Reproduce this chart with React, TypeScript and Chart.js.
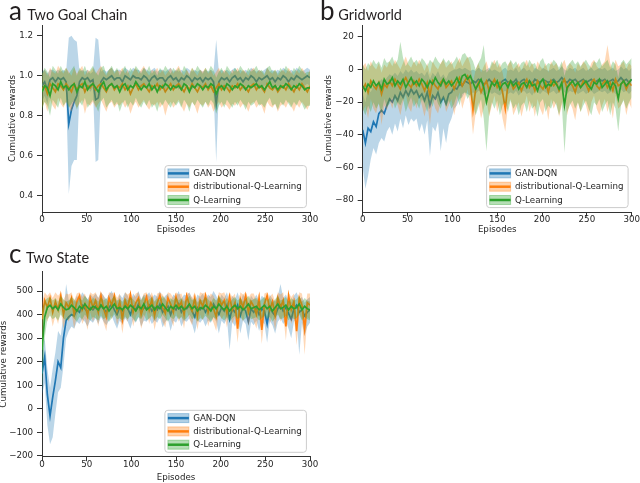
import React, { useEffect, useRef } from 'react';
import { Chart, registerables } from 'chart.js';
Chart.register(...registerables);

// ---------- data ----------
const EPISODES = [
  0, 3, 6, 9, 12, 15, 18, 21, 24, 27,
  30, 33, 36, 39, 42, 45, 48, 51, 54, 57,
  60, 63, 66, 69, 72, 75, 78, 81, 84, 87,
  90, 93, 96, 99, 102, 105, 108, 111, 114, 117,
  120, 123, 126, 129, 132, 135, 138, 141, 144, 147,
  150, 153, 156, 159, 162, 165, 168, 171, 174, 177,
  180, 183, 186, 189, 192, 195, 198, 201, 204, 207,
  210, 213, 216, 219, 222, 225, 228, 231, 234, 237,
  240, 243, 246, 249, 252, 255, 258, 261, 264, 267,
  270, 273, 276, 279, 282, 285, 288, 291, 294, 297,
  300,
];
const X_TICKS = [0, 50, 100, 150, 200, 250, 300];
const A_Y_TICKS = [0.4, 0.6, 0.8, 1.0, 1.2];
const B_Y_TICKS = [-80, -60, -40, -20, 0, 20];
const C_Y_TICKS = [-200, -100, 0, 100, 200, 300, 400, 500];
const SERIES_NAMES = ['GAN-DQN', 'distributional-Q-Learning', 'Q-Learning'];

// Panel a: Two Goal Chain
const A_GAN = [
  0.95, 0.97, 0.93, 0.98, 0.99, 0.97, 0.99, 0.98, 0.99, 0.97,
  0.76, 0.83, 0.87, 0.90, 0.97, 0.99, 0.98, 0.99, 0.97, 0.98,
  0.88, 0.89, 0.97, 0.99, 0.98, 0.99, 1.00, 0.98, 0.99, 0.99,
  0.97, 1.00, 0.99, 0.98, 1.00, 0.99, 0.99, 0.98, 1.00, 0.99,
  0.97, 0.99, 1.00, 0.98, 0.99, 0.99, 0.97, 0.99, 1.00, 0.98,
  0.99, 0.97, 0.99, 0.98, 1.00, 0.99, 0.97, 0.99, 0.98, 0.99,
  0.97, 0.99, 0.98, 0.99, 0.97, 0.86, 0.97, 0.99, 0.98, 0.99,
  0.97, 0.99, 1.00, 0.98, 0.99, 0.97, 0.99, 0.98, 1.00, 0.99,
  0.97, 0.99, 0.98, 0.99, 1.00, 0.98, 0.99, 0.97, 0.99, 0.98,
  1.00, 0.99, 0.97, 0.99, 0.98, 1.00, 0.99, 0.98, 0.99, 1.00,
  0.99,
];
const A_GAN_LO = [
  0.87, 0.90, 0.86, 0.93, 0.95, 0.92, 0.95, 0.94, 0.95, 0.92,
  0.41, 0.55, 0.58, 0.58, 0.93, 0.95, 0.94, 0.95, 0.92, 0.94,
  0.57, 0.58, 0.93, 0.95, 0.94, 0.95, 0.96, 0.94, 0.95, 0.95,
  0.93, 0.96, 0.95, 0.94, 0.96, 0.95, 0.95, 0.94, 0.96, 0.95,
  0.93, 0.95, 0.96, 0.94, 0.95, 0.95, 0.93, 0.95, 0.96, 0.94,
  0.95, 0.93, 0.95, 0.94, 0.96, 0.95, 0.93, 0.95, 0.94, 0.95,
  0.93, 0.95, 0.94, 0.95, 0.93, 0.57, 0.93, 0.95, 0.94, 0.95,
  0.93, 0.95, 0.96, 0.94, 0.95, 0.93, 0.95, 0.94, 0.96, 0.95,
  0.93, 0.95, 0.94, 0.95, 0.96, 0.94, 0.95, 0.93, 0.95, 0.94,
  0.96, 0.95, 0.93, 0.95, 0.94, 0.96, 0.95, 0.94, 0.95, 0.96,
  0.95,
];
const A_GAN_HI = [
  1.02, 1.03, 1.01, 1.03, 1.03, 1.02, 1.03, 1.02, 1.03, 1.02,
  1.19, 1.20, 1.18, 1.17, 1.02, 1.03, 1.02, 1.03, 1.01, 1.02,
  1.19, 1.18, 1.02, 1.03, 1.02, 1.03, 1.04, 1.02, 1.03, 1.03,
  1.02, 1.04, 1.03, 1.02, 1.04, 1.03, 1.03, 1.02, 1.04, 1.03,
  1.02, 1.03, 1.04, 1.02, 1.03, 1.03, 1.02, 1.03, 1.04, 1.02,
  1.03, 1.02, 1.03, 1.02, 1.04, 1.03, 1.02, 1.03, 1.02, 1.03,
  1.02, 1.03, 1.02, 1.03, 1.02, 1.18, 1.02, 1.03, 1.02, 1.03,
  1.02, 1.03, 1.04, 1.02, 1.03, 1.02, 1.03, 1.02, 1.04, 1.03,
  1.02, 1.03, 1.02, 1.03, 1.04, 1.02, 1.03, 1.02, 1.03, 1.02,
  1.04, 1.03, 1.02, 1.03, 1.02, 1.04, 1.03, 1.02, 1.03, 1.04,
  1.03,
];
const A_DIST = [
  0.93, 0.95, 0.91, 0.96, 0.94, 0.92, 0.96, 0.95, 0.93, 0.96,
  0.94, 0.92, 0.96, 0.93, 0.95, 0.96, 0.92, 0.95, 0.94, 0.96,
  0.93, 0.95, 0.96, 0.94, 0.92, 0.95, 0.96, 0.93, 0.95, 0.94,
  0.96, 0.93, 0.95, 0.91, 0.94, 0.96, 0.93, 0.95, 0.96, 0.94,
  0.92, 0.95, 0.94, 0.96, 0.93, 0.95, 0.92, 0.94, 0.96, 0.93,
  0.95, 0.96, 0.94, 0.92, 0.95, 0.93, 0.96, 0.94, 0.92, 0.95,
  0.94, 0.96, 0.93, 0.95, 0.92, 0.94, 0.96, 0.93, 0.95, 0.94,
  0.92, 0.95, 0.94, 0.96, 0.93, 0.95, 0.94, 0.92, 0.95, 0.96,
  0.93, 0.95, 0.94, 0.92, 0.96, 0.94, 0.93, 0.95, 0.92, 0.94,
  0.95, 0.93, 0.96, 0.94, 0.92, 0.95, 0.93, 0.96, 0.94, 0.92,
  0.95,
];
const A_DIST_LO = [
  0.84, 0.87, 0.82, 0.88, 0.85, 0.83, 0.89, 0.86, 0.84, 0.87,
  0.85, 0.82, 0.87, 0.84, 0.86, 0.88, 0.81, 0.86, 0.85, 0.87,
  0.84, 0.86, 0.88, 0.85, 0.82, 0.86, 0.87, 0.84, 0.86, 0.85,
  0.87, 0.84, 0.86, 0.81, 0.85, 0.87, 0.84, 0.86, 0.88, 0.85,
  0.83, 0.86, 0.85, 0.87, 0.84, 0.86, 0.80, 0.85, 0.87, 0.84,
  0.86, 0.88, 0.85, 0.82, 0.86, 0.84, 0.87, 0.85, 0.81, 0.86,
  0.85, 0.87, 0.84, 0.86, 0.82, 0.85, 0.87, 0.84, 0.86, 0.85,
  0.83, 0.86, 0.85, 0.87, 0.84, 0.86, 0.85, 0.82, 0.86, 0.87,
  0.84, 0.86, 0.85, 0.81, 0.87, 0.85, 0.84, 0.86, 0.82, 0.85,
  0.86, 0.84, 0.87, 0.85, 0.82, 0.86, 0.84, 0.87, 0.85, 0.83,
  0.86,
];
const A_DIST_HI = [
  1.01, 1.03, 1.00, 1.04, 1.02, 1.01, 1.05, 1.03, 1.01, 1.04,
  1.02, 1.00, 1.04, 1.01, 1.03, 1.05, 1.00, 1.03, 1.02, 1.04,
  1.01, 1.03, 1.05, 1.02, 1.00, 1.03, 1.04, 1.01, 1.03, 1.02,
  1.04, 1.01, 1.03, 0.99, 1.02, 1.04, 1.01, 1.03, 1.05, 1.02,
  1.00, 1.03, 1.02, 1.04, 1.01, 1.03, 1.00, 1.02, 1.04, 1.01,
  1.03, 1.05, 1.02, 1.00, 1.03, 1.01, 1.04, 1.02, 1.00, 1.03,
  1.02, 1.04, 1.01, 1.03, 1.00, 1.02, 1.04, 1.01, 1.03, 1.02,
  1.00, 1.03, 1.02, 1.04, 1.01, 1.03, 1.02, 1.00, 1.03, 1.04,
  1.01, 1.03, 1.02, 1.00, 1.04, 1.02, 1.01, 1.03, 1.00, 1.02,
  1.03, 1.01, 1.04, 1.02, 1.00, 1.03, 1.01, 1.04, 1.02, 1.00,
  1.03,
];
const A_Q = [
  0.92, 0.95, 0.94, 0.90, 0.96, 0.95, 0.93, 0.97, 0.94, 0.95,
  0.93, 0.95, 0.96, 0.92, 0.95, 0.94, 0.97, 0.93, 0.95, 0.96,
  0.94, 0.92, 0.95, 0.97, 0.93, 0.95, 0.96, 0.94, 0.95, 0.92,
  0.95, 0.96, 0.93, 0.95, 0.94, 0.97, 0.95, 0.93, 0.95, 0.94,
  0.96, 0.93, 0.95, 0.92, 0.95, 0.94, 0.96, 0.95, 0.93, 0.95,
  0.94, 0.95, 0.93, 0.96, 0.95, 0.92, 0.95, 0.94, 0.96, 0.95,
  0.93, 0.95, 0.94, 0.96, 0.95, 0.91, 0.94, 0.95, 0.93, 0.96,
  0.95, 0.93, 0.95, 0.94, 0.96, 0.95, 0.93, 0.95, 0.94, 0.95,
  0.96, 0.94, 0.95, 0.93, 0.95, 0.97, 0.94, 0.95, 0.93, 0.95,
  0.94, 0.96, 0.95, 0.93, 0.95, 0.94, 0.96, 0.95, 0.93, 0.94,
  0.94,
];
const A_Q_LO = [
  0.83, 0.87, 0.85, 0.80, 0.88, 0.86, 0.84, 0.89, 0.85, 0.87,
  0.84, 0.86, 0.88, 0.83, 0.87, 0.85, 0.89, 0.84, 0.86, 0.88,
  0.85, 0.82, 0.87, 0.89, 0.84, 0.86, 0.88, 0.85, 0.87, 0.82,
  0.86, 0.88, 0.84, 0.87, 0.85, 0.89, 0.86, 0.84, 0.87, 0.85,
  0.88, 0.84, 0.86, 0.82, 0.87, 0.85, 0.88, 0.86, 0.84, 0.87,
  0.85, 0.87, 0.84, 0.88, 0.86, 0.82, 0.87, 0.85, 0.88, 0.86,
  0.84, 0.87, 0.85, 0.88, 0.86, 0.81, 0.85, 0.87, 0.84, 0.88,
  0.86, 0.84, 0.87, 0.85, 0.88, 0.86, 0.83, 0.87, 0.85, 0.86,
  0.88, 0.85, 0.86, 0.84, 0.87, 0.89, 0.85, 0.86, 0.83, 0.87,
  0.85, 0.88, 0.86, 0.84, 0.87, 0.85, 0.88, 0.86, 0.83, 0.85,
  0.85,
];
const A_Q_HI = [
  1.01, 1.04, 1.02, 0.99, 1.05, 1.03, 1.01, 1.05, 1.02, 1.04,
  1.01, 1.03, 1.05, 1.00, 1.04, 1.02, 1.05, 1.01, 1.03, 1.05,
  1.02, 1.00, 1.04, 1.05, 1.01, 1.03, 1.05, 1.02, 1.04, 1.00,
  1.03, 1.05, 1.01, 1.04, 1.02, 1.05, 1.03, 1.01, 1.04, 1.02,
  1.05, 1.01, 1.03, 1.00, 1.04, 1.02, 1.05, 1.03, 1.01, 1.04,
  1.02, 1.04, 1.01, 1.05, 1.03, 1.00, 1.04, 1.02, 1.05, 1.03,
  1.01, 1.04, 1.02, 1.05, 1.03, 0.99, 1.02, 1.04, 1.01, 1.05,
  1.03, 1.01, 1.04, 1.02, 1.05, 1.03, 1.01, 1.04, 1.02, 1.03,
  1.05, 1.02, 1.03, 1.01, 1.04, 1.05, 1.02, 1.03, 1.01, 1.04,
  1.02, 1.05, 1.03, 1.01, 1.04, 1.02, 1.05, 1.03, 1.01, 1.02,
  1.02,
];

// Panel b: Gridworld
const B_GAN = [
  -37, -45, -36, -38, -32, -35, -27, -25, -27, -22,
  -18, -20, -16, -19, -14, -17, -13, -16, -12, -15,
  -13, -17, -15, -19, -14, -22, -16, -18, -14, -20,
  -17, -21, -15, -14, -11, -12, -9, -10, -7, -8,
  -9, -7, -8, -6, -7, -9, -8, -6, -8, -7,
  -8, -9, -7, -6, -8, -7, -8, -6, -9, -7,
  -6, -8, -7, -9, -6, -7, -8, -6, -7, -8,
  -7, -6, -8, -7, -5, -7, -8, -6, -7, -6,
  -8, -7, -6, -8, -7, -6, -8, -7, -6, -7,
  -6, -8, -7, -6, -8, -7, -5, -7, -6, -8,
  -6,
];
const B_GAN_LO = [
  -60, -73, -65, -55, -48, -52, -45, -42, -44, -38,
  -35, -40, -33, -38, -30, -36, -28, -34, -30, -32,
  -30, -38, -33, -40, -31, -53, -35, -38, -32, -50,
  -36, -45, -34, -30, -24, -22, -18, -17, -14, -15,
  -16, -14, -15, -13, -14, -16, -15, -13, -15, -14,
  -15, -16, -14, -13, -15, -14, -15, -13, -16, -14,
  -13, -15, -14, -16, -13, -14, -15, -13, -14, -15,
  -14, -13, -15, -14, -12, -14, -15, -13, -14, -13,
  -15, -14, -13, -15, -14, -13, -15, -14, -13, -14,
  -13, -15, -14, -13, -15, -14, -12, -14, -13, -15,
  -13,
];
const B_GAN_HI = [
  -15, -20, -12, -14, -10, -12, -8, -6, -7, -5,
  -3, -4, -2, -4, -1, -3, 0, -2, 0, -2,
  -1, -3, -2, -4, -1, -6, -2, -4, -1, -5,
  -3, -6, -2, -1, 0, 0, 1, 0, 1, 0,
  -1, 0, -1, 1, 0, -1, 0, 1, -1, 0,
  -1, -2, 0, 1, -1, 0, -1, 1, -2, 0,
  1, -1, 0, -2, 1, 0, -1, 1, 0, -1,
  0, 1, -1, 0, 2, 0, -1, 1, 0, 1,
  -1, 0, 1, -1, 0, 1, -1, 0, 1, 0,
  1, -1, 0, 1, -1, 0, 2, 0, 1, -1,
  1,
];
const B_DIST = [
  -12, -9, -14, -7, -10, -12, -8, -15, -9, -11,
  -7, -10, -6, -9, -12, -8, -5, -9, -11, -7,
  -10, -6, -9, -13, -8, -16, -7, -10, -12, -8,
  -6, -11, -9, -7, -12, -8, -5, -10, -7, -4,
  -9, -25, -12, -8, -14, -10, -7, -13, -9, -6,
  -11, -8, -14, -24, -9, -7, -12, -10, -8, -13,
  -9, -6, -11, -8, -13, -7, -10, -12, -8, -14,
  -7, -10, -8, -13, -9, -6, -12, -8, -10, -14,
  -8, -11, -7, -9, -13, -8, -6, -10, -12, -9,
  -7, -11, -8, -13, -6, -10, -9, -7, -12, -8,
  -10,
];
const B_DIST_LO = [
  -26, -22, -30, -18, -24, -27, -20, -34, -22, -25,
  -19, -24, -17, -22, -28, -20, -15, -23, -26, -18,
  -24, -16, -22, -29, -20, -34, -18, -24, -27, -20,
  -17, -26, -22, -18, -28, -20, -14, -24, -18, -12,
  -22, -40, -27, -20, -30, -24, -18, -29, -22, -16,
  -26, -20, -30, -38, -22, -18, -28, -24, -20, -29,
  -22, -16, -26, -20, -29, -18, -24, -28, -20, -31,
  -18, -24, -20, -29, -22, -16, -28, -20, -24, -31,
  -20, -26, -18, -22, -29, -20, -16, -24, -28, -22,
  -18, -26, -20, -30, -16, -24, -22, -18, -28, -20,
  -24,
];
const B_DIST_HI = [
  2, 4, -1, 5, 2, 0, 4, -2, 3, 1,
  5, 2, 6, 3, 0, 4, 8, 3, 1, 5,
  2, 6, 3, -1, 4, -3, 5, 2, 0, 4,
  6, 1, 3, 5, 0, 4, 7, 2, 5, 8,
  3, -8, 0, 4, -2, 2, 5, -1, 3, 6,
  1, 4, -2, -10, 3, 5, 0, 2, 4, -1,
  3, 6, 1, 4, -1, 5, 2, 0, 4, -2,
  5, 2, 4, -1, 3, 6, 0, 4, 2, -2,
  4, 1, 5, 3, -1, 4, 6, 2, 0, 3,
  5, 15, 4, -1, 6, 2, 3, 5, 0, 4,
  2,
];
const B_Q = [
  -10, -13, -9, -11, -7, -10, -8, -12, -6, -9,
  -8, -5, -10, -7, -9, -6, -11, -8, -5, -9,
  -7, -10, -6, -8, -11, -7, -9, -5, -8, -10,
  -6, -9, -7, -10, -8, -5, -9, -4, -3, -6,
  -4, -8, -12, -9, -6, -11, -20, -13, -8, -10,
  -7, -12, -9, -8, -11, -7, -10, -8, -12, -9,
  -8, -11, -7, -10, -9, -13, -8, -6, -11, -9,
  -10, -7, -9, -12, -8, -22, -11, -9, -7, -10,
  -8, -11, -9, -7, -10, -12, -8, -9, -6, -11,
  -9, -7, -12, -8, -10, -18, -9, -7, -10, -8,
  -6,
];
const B_Q_LO = [
  -24, -28, -22, -26, -20, -24, -21, -27, -18, -23,
  -21, -17, -24, -20, -22, -18, -26, -21, -17, -23,
  -20, -24, -18, -21, -26, -19, -23, -16, -21, -24,
  -18, -23, -19, -24, -21, -16, -22, -15, -14, -18,
  -15, -22, -28, -23, -18, -30, -50, -28, -20, -24,
  -19, -28, -22, -20, -26, -19, -24, -21, -28, -22,
  -20, -26, -19, -24, -22, -29, -20, -18, -26, -22,
  -24, -19, -22, -28, -20, -51, -26, -22, -19, -24,
  -20, -26, -22, -19, -24, -28, -20, -22, -18, -26,
  -22, -19, -28, -20, -24, -38, -22, -19, -24, -20,
  -17,
];
const B_Q_HI = [
  3, 0, 4, 2, 6, 3, 5, 1, 7, 4,
  5, 8, 3, 6, 17, 7, 2, 5, 8, 4,
  6, 3, 7, 5, 2, 6, 4, 8, 5, 3,
  7, 4, 6, 3, 5, 8, 4, 9, 10, 7,
  8, 5, 0, 4, 7, 15, -2, 0, 5, 3,
  6, 1, 4, 5, 2, 6, 3, 5, 1, 4,
  5, 2, 6, 3, 4, 0, 5, 7, 2, 4,
  3, 6, 4, 1, 5, -4, 2, 4, 6, 3,
  5, 2, 4, 6, 3, 1, 5, 4, 7, 2,
  4, 6, 1, 5, 3, -5, 4, 6, 3, 5,
  7,
];

// Panel c: Two State
const C_GAN = [
  150, 220, 60, -30, 50, 120, 200, 175, 300, 375,
  390, 400, 395, 420, 410, 440, 425, 410, 430, 420,
  435, 415, 440, 425, 410, 430, 445, 420, 400, 430,
  415, 440, 425, 400, 435, 420, 445, 410, 430, 425,
  440, 415, 430, 420, 445, 410, 425, 435, 400, 430,
  420, 445, 410, 430, 425, 440, 415, 390, 430, 420,
  435, 410, 430, 420, 445, 425, 400, 430, 415, 440,
  380, 425, 410, 440, 395, 430, 415, 370, 425, 410,
  430, 400, 425, 415, 360, 430, 410, 395, 425, 440,
  415, 430, 405, 380, 425, 440, 410, 420, 395, 410,
  420,
];
const C_GAN_LO = [
  60, 110, -70, -150, -120, -20, 70, 90, 180, 300,
  330, 350, 340, 370, 360, 380, 370, 350, 375, 365,
  385, 360, 390, 370, 355, 375, 395, 365, 340, 375,
  360, 385, 370, 340, 380, 365, 390, 350, 375, 370,
  385, 360, 375, 365, 390, 345, 370, 380, 330, 375,
  365, 390, 350, 375, 370, 385, 360, 320, 375, 365,
  380, 350, 375, 365, 390, 370, 320, 375, 360, 385,
  250, 370, 350, 385, 320, 375, 360, 290, 370, 355,
  375, 330, 370, 360, 280, 375, 355, 320, 370, 385,
  360, 375, 340, 300, 370, 385, 230, 365, 310, 350,
  365,
];
const C_GAN_HI = [
  240, 300, 170, 90, 170, 240, 330, 310, 400, 530,
  460, 465, 455, 480, 465, 495, 480, 465, 485, 475,
  490, 470, 495, 480, 465, 485, 500, 475, 455, 485,
  470, 495, 480, 455, 490, 475, 500, 465, 485, 480,
  495, 470, 485, 475, 500, 465, 480, 490, 455, 485,
  475, 500, 465, 485, 480, 495, 470, 450, 485, 475,
  490, 465, 485, 475, 500, 480, 455, 485, 470, 495,
  450, 480, 465, 495, 455, 485, 470, 445, 480, 465,
  485, 455, 480, 470, 440, 485, 465, 455, 480, 530,
  470, 485, 460, 450, 480, 495, 465, 475, 450, 465,
  475,
];
const C_DIST = [
  380, 460, 430, 470, 410, 455, 420, 480, 400, 450,
  430, 470, 400, 455, 480, 420, 445, 395, 470, 430,
  460, 410, 480, 425, 390, 470, 440, 480, 415, 455,
  380, 460, 430, 485, 410, 450, 470, 400, 440, 475,
  420, 465, 395, 450, 480, 430, 405, 470, 445, 410,
  475, 430, 455, 400, 480, 440, 415, 470, 395, 460,
  435, 480, 410, 450, 425, 390, 470, 440, 460, 405,
  475, 420, 450, 340, 465, 430, 480, 410, 455, 435,
  400, 470, 335, 445, 480, 420, 455, 395, 470, 430,
  460, 350, 480, 420, 455, 330, 470, 440, 340, 450,
  440,
];
const C_DIST_LO = [
  250, 400, 370, 410, 350, 395, 360, 420, 340, 390,
  370, 410, 340, 395, 420, 360, 385, 335, 410, 370,
  400, 350, 420, 365, 330, 410, 380, 420, 355, 395,
  320, 400, 370, 425, 350, 390, 410, 340, 380, 415,
  360, 405, 335, 390, 420, 370, 345, 410, 385, 350,
  415, 370, 395, 340, 420, 380, 355, 410, 335, 400,
  375, 420, 350, 390, 365, 330, 410, 380, 400, 345,
  415, 360, 390, 280, 405, 370, 420, 350, 395, 375,
  340, 410, 275, 385, 420, 360, 395, 335, 410, 370,
  400, 290, 420, 360, 395, 270, 410, 380, 230, 390,
  380,
];
const C_DIST_HI = [
  450, 495, 480, 495, 470, 495, 480, 495, 460, 490,
  485, 495, 460, 490, 495, 475, 490, 455, 495, 485,
  495, 470, 495, 480, 450, 495, 490, 495, 470, 490,
  440, 495, 485, 495, 470, 490, 495, 460, 490, 495,
  475, 495, 455, 490, 495, 485, 465, 495, 490, 470,
  495, 485, 490, 460, 495, 490, 470, 495, 455, 495,
  490, 495, 470, 490, 480, 450, 495, 490, 495, 465,
  495, 475, 490, 400, 495, 485, 495, 470, 490, 490,
  460, 495, 395, 490, 495, 475, 490, 455, 495, 485,
  495, 410, 495, 475, 490, 390, 495, 490, 400, 490,
  490,
];
const C_Q = [
  250, 390, 430, 440, 425, 435, 420, 445, 430, 420,
  425, 440, 430, 415, 435, 425, 445, 430, 420, 435,
  430, 420, 440, 425, 435, 415, 430, 445, 425, 430,
  420, 435, 425, 440, 430, 415, 435, 425, 445, 420,
  430, 440, 420, 435, 425, 445, 430, 415, 435, 425,
  440, 425, 435, 420, 430, 445, 425, 435, 415, 430,
  425, 440, 430, 415, 435, 425, 445, 430, 420, 435,
  415, 430, 440, 425, 435, 420, 430, 445, 425, 430,
  435, 420, 430, 440, 425, 435, 415, 430, 445, 425,
  430, 440, 420, 435, 425, 430, 445, 420, 435, 425,
  420,
];
const C_Q_LO = [
  70, 300, 380, 395, 380, 390, 375, 400, 385, 375,
  380, 395, 385, 370, 390, 380, 400, 385, 375, 390,
  385, 375, 395, 380, 390, 370, 385, 400, 380, 385,
  375, 390, 380, 395, 385, 370, 390, 380, 400, 375,
  385, 395, 375, 390, 380, 400, 385, 370, 390, 380,
  395, 380, 390, 375, 385, 400, 380, 390, 370, 385,
  380, 395, 385, 370, 390, 380, 400, 385, 375, 390,
  370, 385, 395, 380, 390, 375, 385, 400, 380, 385,
  390, 375, 385, 395, 380, 390, 370, 385, 400, 380,
  385, 395, 375, 390, 380, 385, 400, 375, 390, 380,
  375,
];
const C_Q_HI = [
  420, 460, 470, 475, 460, 470, 455, 480, 465, 455,
  460, 475, 465, 450, 470, 460, 480, 465, 455, 470,
  465, 455, 475, 460, 470, 450, 465, 480, 460, 465,
  455, 470, 460, 475, 465, 450, 470, 460, 480, 455,
  465, 475, 455, 470, 460, 480, 465, 450, 470, 460,
  475, 460, 470, 455, 465, 480, 460, 470, 450, 465,
  460, 475, 465, 450, 470, 460, 480, 465, 455, 470,
  450, 465, 475, 460, 470, 455, 465, 480, 460, 465,
  470, 455, 465, 475, 460, 470, 450, 465, 480, 460,
  465, 475, 455, 470, 460, 465, 480, 455, 470, 460,
  455,
];

// ---------- styling ----------
const COLORS = ['#1f77b4', '#ff7f0e', '#2ca02c'];
const BAND_RGB = ['31,119,180', '255,127,14', '44,160,44'];
const TEXT_COLOR = '#262626';
const AXIS_COLOR = '#333333';
const SMALL_FONT = { family: '"DejaVu Sans", sans-serif', size: 8.7 };

const fmtMinus = (v: number) => String(v).replace('-', '\u2212');

type PanelDef = {
  letter: string;
  title: string;
  left: number; top: number; width: number; height: number;
  padTop: number; padRight: number; yWidth: number; xHeight: number;
  yMin: number; yMax: number; yTicks: number[]; yFmt: (v: number) => string;
  yTitlePad: number; xTitlePad: number;
  letterX: number; titleX: number; baseline: number;
  series: number[][][];
};

const PANELS: PanelDef[] = [
  {
    letter: 'a', title: 'Two Goal Chain',
    left: 0, top: 0, width: 320, height: 240,
    padTop: 25, padRight: 10, yWidth: 42, xHeight: 28,
    yMin: 0.32, yMax: 1.2535, yTicks: A_Y_TICKS, yFmt: (v) => v.toFixed(1),
    yTitlePad: 8, xTitlePad: 4.8,
    letterX: 9, titleX: 27.3, baseline: 20,
    series: [[A_GAN, A_GAN_LO, A_GAN_HI], [A_DIST, A_DIST_LO, A_DIST_HI], [A_Q, A_Q_LO, A_Q_HI]],
  },
  {
    letter: 'b', title: 'Gridworld',
    left: 320, top: 0, width: 320, height: 240,
    padTop: 25, padRight: 8.3, yWidth: 42.7, xHeight: 28,
    yMin: -87.2, yMax: 27.2, yTicks: B_Y_TICKS, yFmt: fmtMinus,
    yTitlePad: 3.8, xTitlePad: 4.8,
    letterX: 0, titleX: 18.3, baseline: 20,
    series: [[B_GAN, B_GAN_LO, B_GAN_HI], [B_DIST, B_DIST_LO, B_DIST_HI], [B_Q, B_Q_LO, B_Q_HI]],
  },
  {
    letter: 'c', title: 'Two State',
    left: 0, top: 240, width: 320, height: 243,
    padTop: 31.7, padRight: 10, yWidth: 42, xHeight: 26.3,
    yMin: -203, yMax: 582, yTicks: C_Y_TICKS, yFmt: fmtMinus,
    yTitlePad: -1.7, xTitlePad: 0,
    letterX: 9, titleX: 26, baseline: 23.3,
    series: [[C_GAN, C_GAN_LO, C_GAN_HI], [C_DIST, C_DIST_LO, C_DIST_HI], [C_Q, C_Q_LO, C_Q_HI]],
  },
];

const toPoints = (ys: number[]) => EPISODES.map((x, i) => ({ x, y: ys[i] }));

function buildDatasets(p: PanelDef) {
  const ds: any[] = [];
  p.series.forEach(([mean, lo, hi], k) => {
    const base = 10 - k * 3;
    ds.push({
      label: SERIES_NAMES[k] + ' lo', data: toPoints(lo), borderWidth: 0, pointRadius: 0,
      borderColor: 'rgba(0,0,0,0)', backgroundColor: 'rgba(0,0,0,0)', fill: false, order: base,
    });
    ds.push({
      label: SERIES_NAMES[k] + ' hi', data: toPoints(hi), borderWidth: 0, pointRadius: 0,
      borderColor: 'rgba(0,0,0,0)', backgroundColor: `rgba(${BAND_RGB[k]},0.3)`, fill: '-1', order: base,
    });
    ds.push({
      label: SERIES_NAMES[k], data: toPoints(mean), borderWidth: 1.7, pointRadius: 0,
      borderColor: COLORS[k], backgroundColor: COLORS[k], fill: false, order: base - 1,
      borderJoinStyle: 'miter',
    });
  });
  return ds;
}

function decorPlugin(p: PanelDef) {
  return {
    id: 'decor',
    afterDraw(chart: any) {
      const ctx = chart.ctx as CanvasRenderingContext2D;
      const ca = chart.chartArea;
      ctx.save();
      // panel title
      ctx.fillStyle = '#231f20';
      ctx.textBaseline = 'alphabetic';
      ctx.textAlign = 'left';
      ctx.font = '26px Lato';
      ctx.fillText(p.letter, p.letterX, p.baseline);
      ctx.font = '14.5px Lato';
      ctx.fillText(p.title, p.titleX, p.baseline);

      // legend
      const w = 141.5, h = 42;
      const x0 = ca.right - 3.6 - w;
      const y0 = ca.bottom - 4.4 - h;
      const r = 3;
      ctx.beginPath();
      ctx.moveTo(x0 + r, y0);
      ctx.lineTo(x0 + w - r, y0);
      ctx.quadraticCurveTo(x0 + w, y0, x0 + w, y0 + r);
      ctx.lineTo(x0 + w, y0 + h - r);
      ctx.quadraticCurveTo(x0 + w, y0 + h, x0 + w - r, y0 + h);
      ctx.lineTo(x0 + r, y0 + h);
      ctx.quadraticCurveTo(x0, y0 + h, x0, y0 + h - r);
      ctx.lineTo(x0, y0 + r);
      ctx.quadraticCurveTo(x0, y0, x0 + r, y0);
      ctx.closePath();
      ctx.fillStyle = 'rgba(255,255,255,0.8)';
      ctx.fill();
      ctx.strokeStyle = '#cccccc';
      ctx.lineWidth = 1;
      ctx.stroke();
      SERIES_NAMES.forEach((name, k) => {
        const cy = y0 + 7.8 + k * 13.3;
        ctx.fillStyle = `rgba(${BAND_RGB[k]},0.35)`;
        ctx.fillRect(x0 + 3, cy - 4.5, 21, 9);
        ctx.strokeStyle = `rgba(${BAND_RGB[k]},0.35)`;
        ctx.lineWidth = 1;
        ctx.strokeRect(x0 + 3, cy - 4.5, 21, 9);
        ctx.strokeStyle = COLORS[k];
        ctx.lineWidth = 2.5;
        ctx.beginPath();
        ctx.moveTo(x0 + 3, cy);
        ctx.lineTo(x0 + 24, cy);
        ctx.stroke();
        ctx.fillStyle = TEXT_COLOR;
        ctx.font = '8.7px "DejaVu Sans"';
        ctx.textBaseline = 'middle';
        ctx.fillText(name, x0 + 28.3, cy + 0.5);
      });
      ctx.restore();
    },
  };
}

function PanelChart({ p }: { p: PanelDef }) {
  const ref = useRef<HTMLCanvasElement | null>(null);
  useEffect(() => {
    if (!ref.current) return;
    const chart = new Chart(ref.current, {
      type: 'line',
      data: { datasets: buildDatasets(p) },
      options: {
        animation: false,
        responsive: false,
        devicePixelRatio: 1,
        events: [],
        layout: { padding: { left: 0, right: p.padRight, top: p.padTop, bottom: 0 } },
        plugins: { legend: { display: false }, tooltip: { enabled: false }, title: { display: false } },
        scales: {
          x: {
            type: 'linear', min: 0, max: 300,
            afterBuildTicks: (s: any) => { s.ticks = X_TICKS.map((v) => ({ value: v })); },
            afterFit: (s: any) => { s.height = p.xHeight; },
            grid: { display: true, drawOnChartArea: false, drawTicks: true, tickLength: 4.5, color: AXIS_COLOR, lineWidth: 1 },
            border: { display: true, color: AXIS_COLOR, width: 1 },
            ticks: { font: SMALL_FONT, color: TEXT_COLOR, padding: -1.5, maxRotation: 0, autoSkip: false, callback: (v: any) => String(v) },
            title: { display: true, text: 'Episodes', font: SMALL_FONT, color: TEXT_COLOR, padding: { top: 0, bottom: p.xTitlePad } },
          },
          y: {
            type: 'linear', min: p.yMin, max: p.yMax,
            afterBuildTicks: (s: any) => { s.ticks = p.yTicks.map((v) => ({ value: v })); },
            afterFit: (s: any) => { s.width = p.yWidth; },
            grid: { display: true, drawOnChartArea: false, drawTicks: true, tickLength: 5, color: AXIS_COLOR, lineWidth: 1 },
            border: { display: true, color: AXIS_COLOR, width: 1 },
            ticks: { font: SMALL_FONT, color: TEXT_COLOR, padding: 4, autoSkip: false, callback: (v: any) => p.yFmt(Number(v)) },
            title: { display: true, text: 'Cumulative rewards', font: SMALL_FONT, color: TEXT_COLOR, padding: { top: p.yTitlePad, bottom: 0 } },
          },
        },
      },
      plugins: [decorPlugin(p)],
    } as any);
    return () => chart.destroy();
  }, [p]);
  return (
    <canvas
      ref={ref}
      width={p.width}
      height={p.height}
      style={{ position: 'absolute', left: p.left, top: p.top, width: p.width, height: p.height }}
    />
  );
}

export default function App() {
  return (
    <div style={{ position: 'absolute', left: 0, top: 0, width: 640, height: 483, background: '#ffffff', overflow: 'hidden' }}>
      {PANELS.map((p) => (
        <PanelChart key={p.letter} p={p} />
      ))}
    </div>
  );
}
